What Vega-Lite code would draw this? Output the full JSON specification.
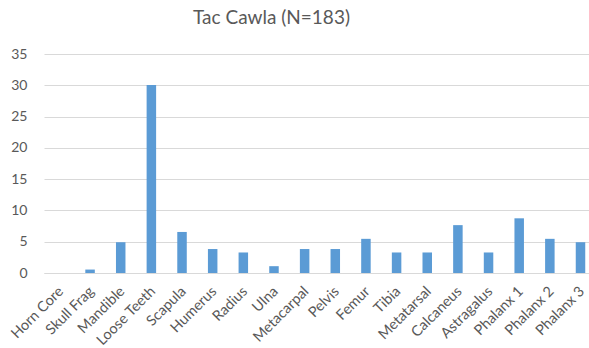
{
  "$schema": "https://vega.github.io/schema/vega-lite/v6.json",
  "autosize": {"type": "none"},
  "width": 545,
  "height": 219,
  "padding": {"left": 44, "top": 54, "right": 0, "bottom": 75},
  "background": "white",
  "config": {
    "font": "Lato",
    "view": {"stroke": null}
  },
  "title": {
    "text": "Tac Cawla (N=183)",
    "fontSize": 19,
    "fontWeight": "normal",
    "color": "#595959",
    "font": "Lato",
    "anchor": "middle",
    "dx": -45,
    "offset": 19
  },
  "data": {
    "values": [
      {"element": "Horn Core", "pct": 0},
      {"element": "Skull Frag", "pct": 0.55},
      {"element": "Mandible", "pct": 4.92},
      {"element": "Loose Teeth", "pct": 30.05},
      {"element": "Scapula", "pct": 6.56},
      {"element": "Humerus", "pct": 3.83},
      {"element": "Radius", "pct": 3.28},
      {"element": "Ulna", "pct": 1.09},
      {"element": "Metacarpal", "pct": 3.83},
      {"element": "Pelvis", "pct": 3.83},
      {"element": "Femur", "pct": 5.46},
      {"element": "Tibia", "pct": 3.28},
      {"element": "Metatarsal", "pct": 3.28},
      {"element": "Calcaneus", "pct": 7.65},
      {"element": "Astragalus", "pct": 3.28},
      {"element": "Phalanx 1", "pct": 8.74},
      {"element": "Phalanx 2", "pct": 5.46},
      {"element": "Phalanx 3", "pct": 4.92}
    ]
  },
  "mark": {"type": "bar", "color": "#5B9BD5"},
  "encoding": {
    "x": {
      "field": "element",
      "type": "nominal",
      "sort": null,
      "title": null,
      "scale": {"paddingInner": 0.69, "paddingOuter": 0.235, "align": 0.74},
      "axis": {
        "labelAngle": -45,
        "labelFontSize": 14.5,
        "labelColor": "#595959",
        "labelPadding": 11,
        "labelOffset": -3,
        "ticks": false,
        "domainColor": "#D9D9D9",
        "domainWidth": 1,
        "grid": false
      }
    },
    "y": {
      "field": "pct",
      "type": "quantitative",
      "title": null,
      "scale": {"domain": [0, 35], "nice": false},
      "axis": {
        "values": [0, 5, 10, 15, 20, 25, 30, 35],
        "labelFontSize": 14,
        "labelColor": "#595959",
        "labelPadding": 17,
        "ticks": false,
        "domain": false,
        "grid": true,
        "gridColor": "#D9D9D9",
        "gridWidth": 1
      }
    }
  }
}
